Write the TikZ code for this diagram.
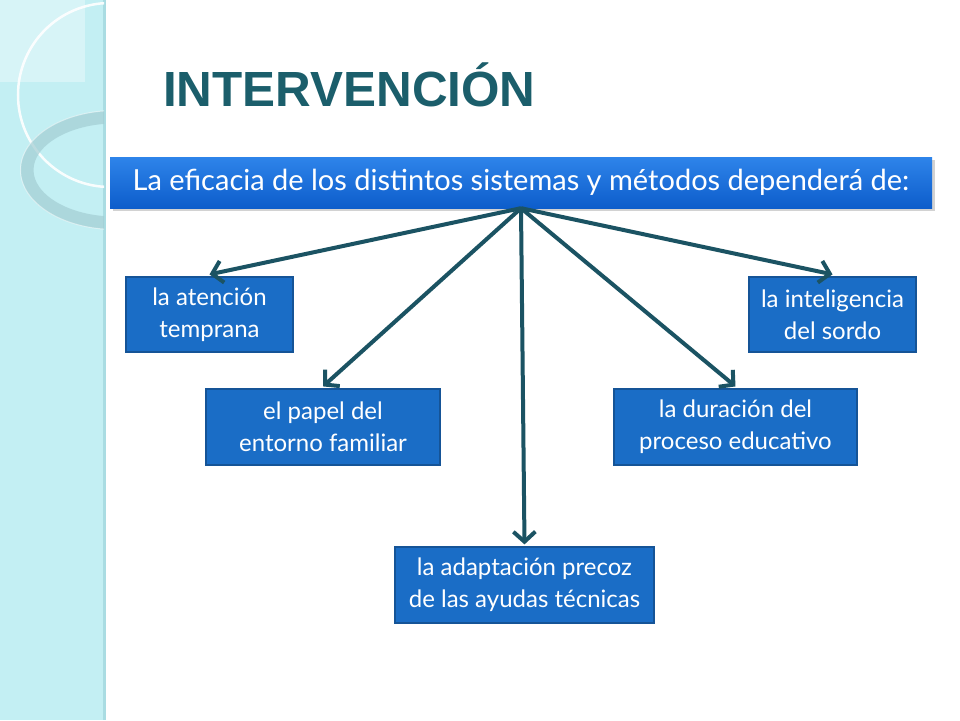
\documentclass[tikz,border=0pt]{standalone}
\usepackage{fontspec}
\setmainfont{Lato}
\newfontfamily\titlefont{Liberation Sans}
\usetikzlibrary{arrows.meta,shadows}
\definecolor{stripc}{HTML}{C3EFF3}
\definecolor{stripedge}{HTML}{A9DCE2}
\definecolor{ringc}{HTML}{A3CDD3}
\definecolor{titlec}{HTML}{1B5E6B}
\definecolor{mainTop}{HTML}{2E84EA}
\definecolor{mainBot}{HTML}{0D5DCB}
\definecolor{boxc}{HTML}{1A6DC6}
\definecolor{boxedge}{HTML}{155497}
\definecolor{arrowc}{HTML}{1B5363}
\tikzset{
  mainbox/.style={draw=none, top color=mainTop, bottom color=mainBot,
    minimum width=822pt, minimum height=51pt, inner sep=0pt,
    text=white, font=\fontsize{29}{33}\selectfont,
    drop shadow={shadow xshift=3pt, shadow yshift=-3pt, opacity=0.35}},
  itembox/.style={fill=boxc, draw=boxedge, line width=1.2pt,
    inner sep=0pt, text=white, align=center,
    font=\fontsize{24}{32}\selectfont},
  link/.style={draw=arrowc, line width=4pt,
    -{Straight Barb[length=10pt,width=22pt,line width=4pt]}}
}
\begin{document}
\begin{tikzpicture}[x=1pt,y=-1pt]
\useasboundingbox (0,0) rectangle (960,720);
\fill[white] (0,0) rectangle (960,720);
% left decorative strip
\fill[stripc] (0,0) rectangle (105,720);
\fill[stripedge] (103,0) rectangle (106,720);
\begin{scope}
  \clip (0,0) rectangle (104,720);
  \fill[white,opacity=0.35] (0,0) rectangle (85,82);
  \draw[white,line width=2.5pt,opacity=0.9] (110,95) ellipse [x radius=92, y radius=92];
  \draw[ringc,line width=13pt,opacity=0.7] (115,170) ellipse [x radius=88, y radius=53];
  \draw[white,line width=1pt,opacity=0.5] (115,170) ellipse [x radius=94.5, y radius=59.5];
\end{scope}
% title
\node[anchor=base west, inner sep=0pt, text=titlec, font=\titlefont\bfseries\fontsize{49.4}{52}\selectfont] (title) at (163,106) {INTERVENCIÓN};
% main box
\node[mainbox] (main) at (521,182.5) {La eficacia de los distintos sistemas y métodos dependerá de:};
% items
\node[itembox, minimum width=167pt, minimum height=75pt] (b1) at (209.5,314.5) {la atención\\temprana};
\node[itembox, minimum width=234pt, minimum height=76pt] (b2) at (323,427) {el papel del\\entorno familiar};
\node[itembox, minimum width=259pt, minimum height=76pt] (b3) at (524.5,585) {la adaptación precoz\\de las ayudas técnicas};
\node[itembox, minimum width=243pt, minimum height=76pt] (b4) at (735.5,427) {la duración del\\proceso educativo};
\node[itembox, minimum width=167pt, minimum height=75pt] (b5) at (832.5,314.5) {la inteligencia\\del sordo};
% connectors
\foreach \b in {b1,b2,b3,b4,b5}
  \draw[link] (main.south) -- ([yshift=2pt]\b.north);
\end{tikzpicture}
\end{document}
